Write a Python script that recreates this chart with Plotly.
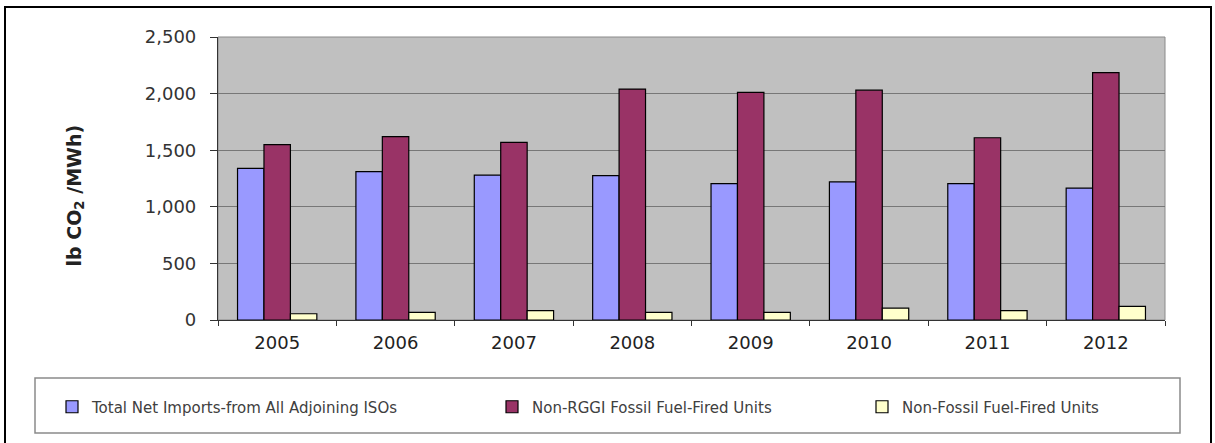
import plotly.graph_objects as go

# Emission rates by year (lb CO2 / MWh)
years = ["2005", "2006", "2007", "2008", "2009", "2010", "2011", "2012"]
net_imports = [1340, 1310, 1280, 1275, 1205, 1220, 1205, 1165]
non_rggi_fossil = [1550, 1620, 1570, 2040, 2010, 2030, 1610, 2185]
non_fossil = [55, 68, 82, 68, 68, 105, 82, 120]

series_names = [
    "Total Net Imports-from All Adjoining ISOs",
    "Non-RGGI Fossil Fuel-Fired Units",
    "Non-Fossil Fuel-Fired Units",
]
series_values = [net_imports, non_rggi_fossil, non_fossil]
series_colors = ["#9999FF", "#993366", "#FFFFCC"]
y_ticks = [0, 500, 1000, 1500, 2000, 2500]

W, H = 1215, 443
M_L, M_R, M_T, M_B = 218, 50, 37, 123
PW, PH = W - M_L - M_R, H - M_T - M_B


def px_x(x):
    return (x - M_L) / PW


def px_y(y):
    return (H - M_B - y) / PH


FONT = "DejaVu Sans"

fig = go.Figure()
legend_ids = ["legend", "legend2", "legend3"]
for name, vals, color, lg in zip(series_names, series_values, series_colors, legend_ids):
    fig.add_trace(go.Bar(
        x=years, y=vals, name=name,
        marker=dict(color=color, line=dict(color="#000000", width=1.2)),
        legend=lg,
    ))

legend_style = dict(
    orientation="h", yanchor="middle", xanchor="left",
    bgcolor="rgba(0,0,0,0)", borderwidth=0,
    font=dict(family=FONT, size=15, color="#404040"),
)
legend_left_px = [52, 492, 862]
layout_legends = {}
for lg, lx in zip(legend_ids, legend_left_px):
    layout_legends[lg] = dict(legend_style, x=px_x(lx), y=px_y(407))

fig.update_layout(
    width=W, height=H,
    margin=dict(l=M_L, r=M_R, t=M_T, b=M_B),
    paper_bgcolor="white",
    plot_bgcolor="#C0C0C0",
    barmode="group",
    bargap=0.33,
    bargroupgap=0,
    showlegend=True,
    **layout_legends,
    xaxis=dict(
        type="category",
        showline=True, linecolor="#333333", linewidth=1.2,
        ticks="outside", tickson="boundaries", ticklen=5,
        tickcolor="#333333", tickwidth=1,
        tickfont=dict(family=FONT, size=18, color="#222222"),
        ticklabelstandoff=6,
        showgrid=False,
    ),
    yaxis=dict(
        range=[0, 2500],
        tickvals=y_ticks,
        tickformat=",d",
        showline=True, linecolor="#333333", linewidth=1.2,
        ticks="outside", ticklen=7, tickcolor="#333333", tickwidth=1,
        tickfont=dict(family=FONT, size=18, color="#333333"),
        ticklabelstandoff=10,
        showgrid=True, gridcolor="#777777", gridwidth=1.2,
        zeroline=False,
    ),
    annotations=[
        dict(
            text="lb CO<sub>2</sub> /MWh)",
            x=px_x(60), y=px_y(196), xref="paper", yref="paper",
            textangle=-90, showarrow=False,
            font=dict(family=FONT, size=19, color="#222222", weight="bold"),
        )
    ],
    shapes=[
        # plot area border (top and right edges)
        dict(type="rect", xref="paper", yref="paper", x0=0, y0=0, x1=1, y1=1,
             line=dict(color="#8a8a8a", width=1), layer="below"),
        # legend box
        dict(type="rect", xref="paper", yref="paper",
             x0=px_x(35), y0=px_y(433), x1=px_x(1180), y1=px_y(378),
             line=dict(color="#8a8a8a", width=1.5)),
        # outer frame
        dict(type="rect", xref="paper", yref="paper",
             x0=px_x(5), y0=px_y(446), x1=px_x(1211), y1=px_y(7),
             line=dict(color="#000000", width=2)),
    ],
)

fig.write_html("out.html")
